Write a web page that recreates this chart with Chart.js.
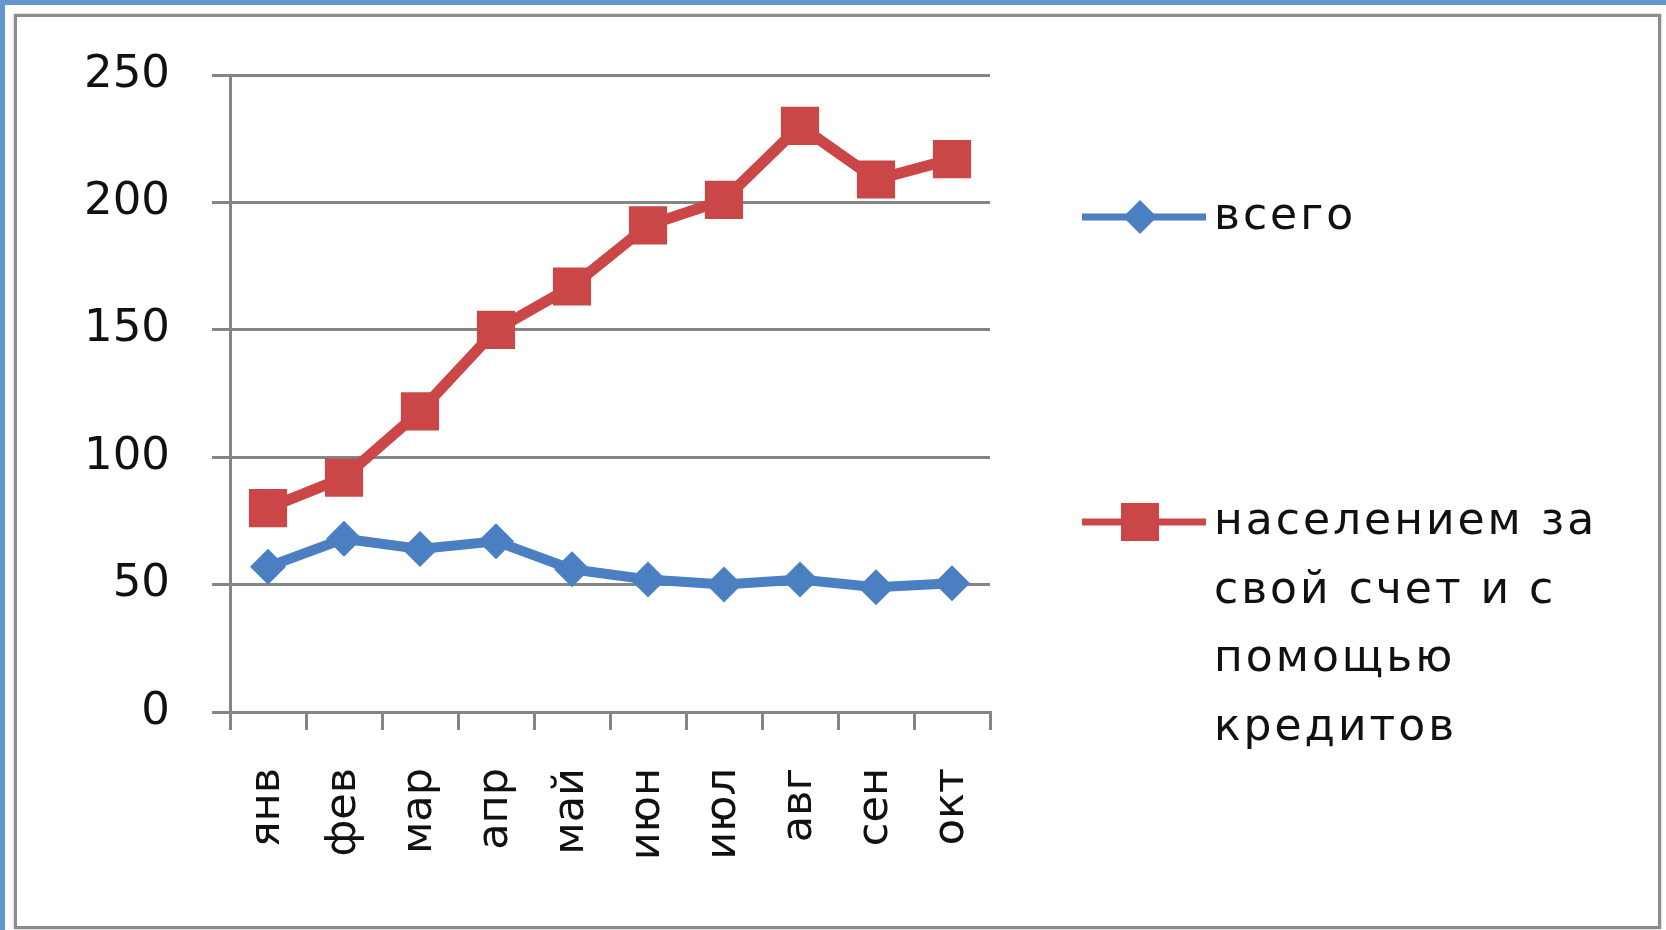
<!DOCTYPE html>
<html lang="ru">
<head>
<meta charset="utf-8">
<title>Динамика по месяцам</title>
<script src="https://cdn.jsdelivr.net/npm/chart.js@4/dist/chart.umd.min.js"></script>
<style>
  html, body { margin: 0; padding: 0; }
  body { width: 1666px; height: 930px; background: #6597cf; position: relative; overflow: hidden; }
  #sheet { position: absolute; left: 5px; top: 5px; width: 1661px; height: 925px; background: #fff; }
  #frame { position: absolute; left: 14px; top: 14px; width: 1641px; height: 909px;
           border: 3px solid #8c8c8c; box-shadow: 0 0 2px #aaa; }
  #chart { position: absolute; left: 0; top: 0; }
</style>
</head>
<body>
<div id="sheet"></div>
<div id="frame"></div>
<canvas id="chart" width="1666" height="930"></canvas>
<script>
// Месяцы
const months = ['янв', 'фев', 'мар', 'апр', 'май', 'июн', 'июл', 'авг', 'сен', 'окт'];

// Ряды данных
const totalLabel = 'всего';
const totalValues = [57, 68, 64, 67, 56, 52, 50, 52, 49, 50.5];

const privateLabel = 'населением за свой счет и с помощью кредитов';
const privateValues = [80, 92, 118, 150, 167, 191, 201, 230, 209, 217];

// Шкала значений
const yTicks = [0, 50, 100, 150, 200, 250];

const BLUE = '#4a7fc2';
const RED = '#cb4646';
const GRID = '#858585';
const FONT = '"DejaVu Sans", Verdana, sans-serif';

// Легенда справа от области построения
const sideLegend = {
  id: 'sideLegend',
  afterDraw(chart) {
    const ctx = chart.ctx;
    const area = chart.chartArea;
    const x0 = area.right + 92;      // начало линии маркера
    const x1 = x0 + 124;             // конец линии маркера
    const xm = x0 + 58;              // центр маркера
    const xt = x1 + 8;               // начало текста
    const maxW = 430;
    const lineH = 68.5;
    const rows = [217, 522];
    ctx.save();
    ctx.font = '44px ' + FONT;
    ctx.letterSpacing = '3px';
    ctx.textAlign = 'left';
    ctx.textBaseline = 'alphabetic';
    chart.data.datasets.forEach((ds, i) => {
      const y = rows[i];
      ctx.strokeStyle = ds.borderColor;
      ctx.lineWidth = 7;
      ctx.beginPath();
      ctx.moveTo(x0, y);
      ctx.lineTo(x1, y);
      ctx.stroke();
      ctx.fillStyle = ds.backgroundColor;
      ctx.beginPath();
      if (ds.pointStyle === 'rectRot') {
        const r = 17;
        ctx.moveTo(xm, y - r);
        ctx.lineTo(xm + r, y);
        ctx.lineTo(xm, y + r);
        ctx.lineTo(xm - r, y);
        ctx.closePath();
      } else {
        const s = 19;
        ctx.rect(xm - s, y - s, 2 * s, 2 * s);
      }
      ctx.fill();
      // перенос подписи по словам
      const words = ds.label.split(' ');
      const lines = [];
      let cur = '';
      words.forEach(w => {
        const test = cur ? cur + ' ' + w : w;
        if (ctx.measureText(test).width > maxW && cur) {
          lines.push(cur);
          cur = w;
        } else {
          cur = test;
        }
      });
      if (cur) lines.push(cur);
      ctx.fillStyle = '#111';
      lines.forEach((ln, k) => {
        ctx.fillText(ln, xt, y + 12 + k * lineH);
      });
    });
    ctx.restore();
  }
};

new Chart(document.getElementById('chart'), {
  type: 'line',
  data: {
    labels: months,
    datasets: [
      {
        label: totalLabel,
        data: totalValues,
        borderColor: BLUE,
        backgroundColor: BLUE,
        borderWidth: 10,
        pointStyle: 'rectRot',
        pointRadius: 18,
        pointBorderWidth: 0,
        tension: 0
      },
      {
        label: privateLabel,
        data: privateValues,
        borderColor: RED,
        backgroundColor: RED,
        borderWidth: 11,
        pointStyle: 'rect',
        pointRadius: 27,
        pointBorderWidth: 0,
        tension: 0
      }
    ]
  },
  options: {
    responsive: false,
    devicePixelRatio: 1,
    animation: false,
    layout: { padding: { left: 0, top: 75, right: 676, bottom: 0 } },
    plugins: {
      legend: { display: false },
      tooltip: { enabled: false }
    },
    scales: {
      x: {
        type: 'category',
        offset: true,
        afterFit(scale) { scale.height = 218; },
        grid: {
          offset: true,
          drawOnChartArea: false,
          drawTicks: true,
          tickLength: 18,
          color: GRID,
          lineWidth: 3
        },
        border: { color: GRID, width: 3 },
        ticks: {
          minRotation: 90,
          maxRotation: 90,
          autoSkip: false,
          padding: 38,
          color: '#111',
          font: { family: FONT, size: 43 }
        }
      },
      y: {
        min: yTicks[0],
        max: yTicks[yTicks.length - 1],
        afterFit(scale) { scale.width = 230; },
        afterBuildTicks(scale) { scale.ticks = yTicks.map(v => ({ value: v })); },
        grid: {
          color: GRID,
          lineWidth: 3,
          tickLength: 18,
          drawTicks: true
        },
        border: { color: GRID, width: 3 },
        ticks: {
          padding: 42,
          color: '#111',
          font: { family: FONT, size: 45 }
        }
      }
    }
  },
  plugins: [sideLegend]
});
</script>
</body>
</html>
